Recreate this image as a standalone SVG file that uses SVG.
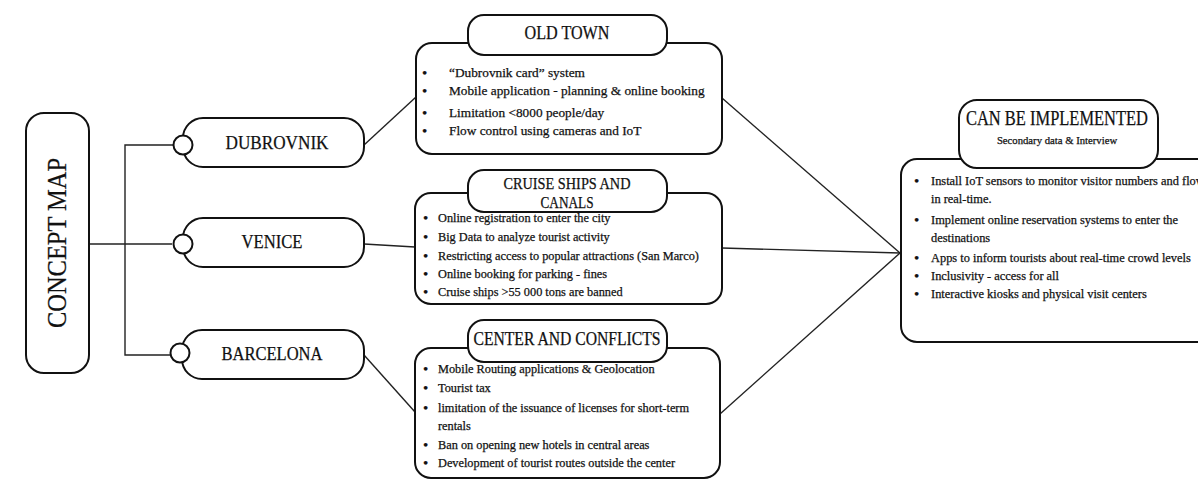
<svg xmlns="http://www.w3.org/2000/svg" width="1198" height="479" viewBox="0 0 1198 479">
<style>
.box{fill:#fff;stroke:#111;stroke-width:2}
.ln{fill:none;stroke:#222;stroke-width:1.4}
.t{font-family:"Liberation Serif","Times New Roman",serif;fill:#111;stroke:#111;stroke-width:0.25}
.ttl{text-anchor:middle}
.bu{font-size:15px}
</style>
<rect width="1198" height="479" fill="#fff"/>
<g id="connectors">
<polyline class="ln" points="89,244 172,244"/>
<polyline class="ln" points="173,145 125,145 125,355 170,355"/>
<line class="ln" x1="364" y1="145" x2="416" y2="97"/>
<line class="ln" x1="364" y1="244" x2="415" y2="247"/>
<line class="ln" x1="364" y1="355" x2="415" y2="412"/>
<line class="ln" x1="722" y1="98" x2="900" y2="253"/>
<line class="ln" x1="722" y1="248" x2="900" y2="253"/>
<line class="ln" x1="720" y1="414" x2="900" y2="253"/>
</g>
<g id="concept-map">
<rect class="box" x="26" y="113" width="63" height="260" rx="18"/>
<text class="t ttl" transform="translate(66,243) rotate(-90)" font-size="28" textLength="170" lengthAdjust="spacingAndGlyphs">CONCEPT MAP</text>
</g>
<g id="dubrovnik">
<rect class="box" x="183" y="118" width="181" height="49" rx="20"/>
<circle class="box" cx="183" cy="145" r="9.5"/>
<text class="t ttl" x="277" y="149" font-size="19" textLength="103" lengthAdjust="spacingAndGlyphs">DUBROVNIK</text>
</g>
<g id="venice">
<rect class="box" x="183" y="218" width="181" height="49" rx="20"/>
<circle class="box" cx="183" cy="244" r="9.5"/>
<text class="t ttl" x="272" y="248" font-size="19" textLength="61" lengthAdjust="spacingAndGlyphs">VENICE</text>
</g>
<g id="barcelona">
<rect class="box" x="182" y="330" width="182" height="49" rx="20"/>
<circle class="box" cx="180" cy="353" r="9.5"/>
<text class="t ttl" x="272" y="360" font-size="19" textLength="101" lengthAdjust="spacingAndGlyphs">BARCELONA</text>
</g>
<g id="old-town">
<rect class="box" x="416" y="43" width="306" height="111" rx="16"/>
<rect class="box" x="468" y="15" width="199" height="40" rx="16"/>
<text class="t ttl" x="567" y="39" font-size="18" textLength="85" lengthAdjust="spacingAndGlyphs">OLD TOWN</text>
<g class="t" font-size="13.3">
<text class="bu" x="422" y="78">•</text><text x="449" y="77">“Dubrovnik card” system</text>
<text class="bu" x="422" y="96">•</text><text x="449" y="95">Mobile application - planning &amp; online booking</text>
<text class="bu" x="422" y="118">•</text><text x="449" y="117">Limitation &lt;8000 people/day</text>
<text class="bu" x="422" y="136">•</text><text x="449" y="135">Flow control using cameras and IoT</text>
</g>
</g>
<g id="cruise-ships">
<rect class="box" x="415" y="193" width="307" height="111" rx="16"/>
<rect class="box" x="468" y="170" width="199" height="42" rx="16"/>
<text class="t ttl" x="567" y="189" font-size="16" textLength="127" lengthAdjust="spacingAndGlyphs">CRUISE SHIPS AND</text>
<text class="t ttl" x="567" y="208" font-size="16" textLength="53" lengthAdjust="spacingAndGlyphs">CANALS</text>
<g class="t" font-size="12.3">
<text class="bu" x="423" y="223">•</text><text x="438" y="222">Online registration to enter the city</text>
<text class="bu" x="423" y="242">•</text><text x="438" y="241">Big Data to analyze tourist activity</text>
<text class="bu" x="423" y="261">•</text><text x="438" y="260">Restricting access to popular attractions (San Marco)</text>
<text class="bu" x="423" y="279">•</text><text x="438" y="278">Online booking for parking - fines</text>
<text class="bu" x="423" y="297">•</text><text x="438" y="296">Cruise ships &gt;55 000 tons are banned</text>
</g>
</g>
<g id="center-conflicts">
<rect class="box" x="415" y="348" width="305" height="130" rx="16"/>
<rect class="box" x="468" y="320" width="199" height="42" rx="16"/>
<text class="t ttl" x="567" y="345" font-size="18" textLength="187" lengthAdjust="spacingAndGlyphs">CENTER AND CONFLICTS</text>
<g class="t" font-size="12.3">
<text class="bu" x="423" y="374">•</text><text x="438" y="373">Mobile Routing applications &amp; Geolocation</text>
<text class="bu" x="423" y="393">•</text><text x="438" y="392">Tourist tax</text>
<text class="bu" x="423" y="413">•</text><text x="438" y="412">limitation of the issuance of licenses for short-term</text>
<text x="438" y="430">rentals</text>
<text class="bu" x="423" y="450">•</text><text x="438" y="449">Ban on opening new hotels in central areas</text>
<text class="bu" x="423" y="468">•</text><text x="438" y="467">Development of tourist routes outside the center</text>
</g>
</g>
<g id="can-be-implemented">
<rect class="box" x="901" y="159" width="320" height="183" rx="16"/>
<rect class="box" x="959" y="100" width="199" height="68" rx="18"/>
<text class="t ttl" x="1057" y="125" font-size="20" textLength="182" lengthAdjust="spacingAndGlyphs">CAN BE IMPLEMENTED</text>
<text class="t ttl" x="1057" y="144" font-size="10.7">Secondary data &amp; Interview</text>
<g class="t" font-size="12.4">
<text class="bu" x="914" y="186">•</text><text x="931" y="185">Install IoT sensors to monitor visitor numbers and flow</text>
<text x="931" y="203">in real-time.</text>
<text class="bu" x="914" y="225">•</text><text x="931" y="224">Implement online reservation systems to enter the</text>
<text x="931" y="242">destinations</text>
<text class="bu" x="914" y="263">•</text><text x="931" y="262">Apps to inform tourists about real-time crowd levels</text>
<text class="bu" x="914" y="281">•</text><text x="931" y="280">Inclusivity - access for all</text>
<text class="bu" x="914" y="299">•</text><text x="931" y="298">Interactive kiosks and physical visit centers</text>
</g>
</g>
</svg>
